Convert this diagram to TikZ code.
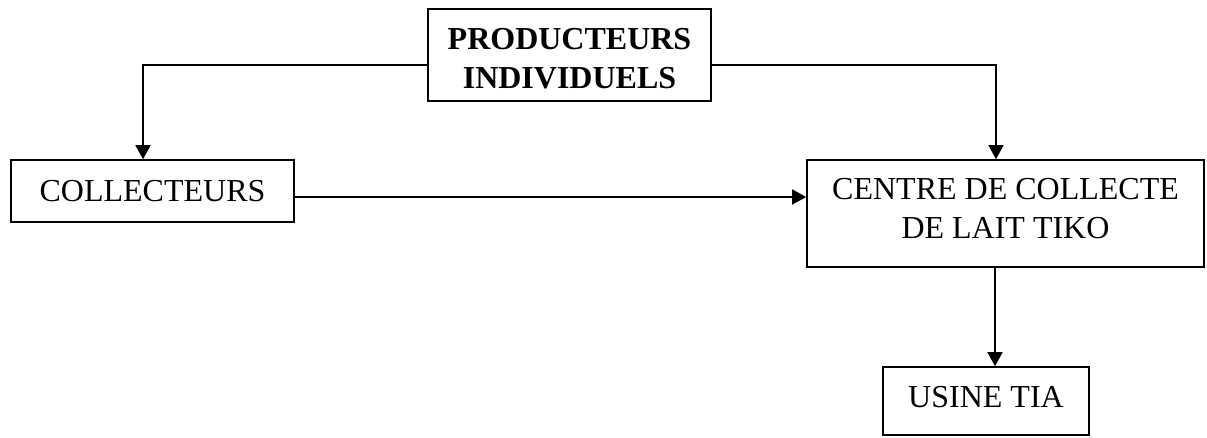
\documentclass[tikz,border=0pt]{standalone}
\usepackage{fontspec}
\setmainfont{Liberation Serif}
\usetikzlibrary{arrows.meta}
\begin{document}
\begin{tikzpicture}[x=1pt,y=-1pt,
  box/.style={draw,line width=1.6pt,inner sep=0pt},
  lbl/.style={inner sep=0pt,align=center,font=\fontsize{32}{39}\selectfont},
  arr/.style={line width=1.6pt,-{Triangle[width=15pt,length=14pt]}}]
\useasboundingbox (0,0) rectangle (1207,437);
\node[box,minimum width=283pt,minimum height=92pt] (prod) at (569.5,55) {};
\node[lbl,font=\fontsize{32}{39}\selectfont\bfseries] (prodtxt) at (569.5,59) {PRODUCTEURS\\INDIVIDUELS};
\node[box,minimum width=283pt,minimum height=62pt] (coll) at (152.5,191) {};
\node[lbl] (colltxt) at (152.5,191) {COLLECTEURS};
\node[box,minimum width=397pt,minimum height=107pt] (cent) at (1005.5,213.5) {};
\node[lbl] (centtxt) at (1005.5,209) {CENTRE DE COLLECTE\\DE LAIT TIKO};
\node[box,minimum width=206pt,minimum height=68pt] (usine) at (986,401) {};
\node[lbl] (usinetxt) at (986,397) {USINE TIA};
\coordinate (c1) at (143,65);
\coordinate (c2) at (996,65);
\coordinate (c3) at (0,197);
\coordinate (c4) at (995,0);
\draw[arr] (prod.west |- c1) -| (coll.north -| c1);
\draw[arr] (prod.east |- c2) -| (cent.north -| c2);
\draw[arr] (coll.east |- c3) -- (cent.west |- c3);
\draw[arr] (cent.south -| c4) -- (usine.north -| c4);
\end{tikzpicture}
\end{document}
